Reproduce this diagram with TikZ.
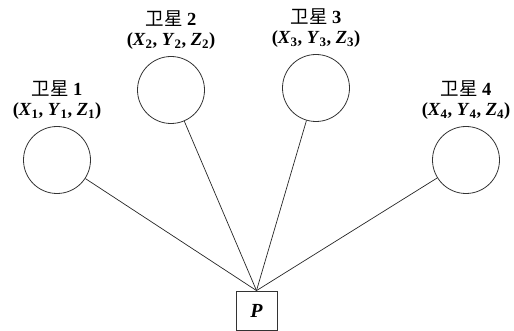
\documentclass[tikz,border=0pt]{standalone}
\usepackage{fontspec}
\setmainfont{Liberation Serif}
\newfontfamily\cjk{Noto Sans CJK SC}
\usetikzlibrary{positioning}

\newcommand{\satcoord}[1]{(\textit{X}\textsubscript{#1}, \textit{Y}\textsubscript{#1}, \textit{Z}\textsubscript{#1})}

\begin{document}
\begin{tikzpicture}[x=1pt, y=-1pt,
    sat/.style={draw=black!80, circle, minimum size=67pt, inner sep=0pt, line width=0.8pt},
    satlabel/.style={align=center, font=\fontsize{18.5}{20.5}\selectfont\bfseries, inner sep=0pt},
    posbox/.style={draw=black!80, minimum width=41pt, minimum height=39pt, inner sep=0pt, line width=0.8pt, font=\fontsize{20}{22}\selectfont\bfseries\itshape},
    link/.style={line width=0.7pt, black!85},
]
\useasboundingbox (0,0) rectangle (514,331);

% Satellites
\node[sat] (sat1) at (57,160) {};
\node[sat] (sat2) at (171,90) {};
\node[sat] (sat3) at (316,88) {};
\node[sat] (sat4) at (466,160) {};

% Labels
\node[satlabel, above=6pt of sat1] (lab1) {{\cjk\mdseries 卫星} 1\\\satcoord{1}};
\node[satlabel, above=6pt of sat2] (lab2) {{\cjk\mdseries 卫星} 2\\\satcoord{2}};
\node[satlabel, above=6pt of sat3] (lab3) {{\cjk\mdseries 卫星} 3\\\satcoord{3}};
\node[satlabel, above=6pt of sat4] (lab4) {{\cjk\mdseries 卫星} 4\\\satcoord{4}};

% Receiver
\node[posbox] (p) at (256.5,310.5) {P};

% Links
\draw[link] (sat1) -- (p.north);
\draw[link] (sat2) -- (p.north);
\draw[link] (sat3) -- (p.north);
\draw[link] (sat4) -- (p.north);
\end{tikzpicture}
\end{document}
